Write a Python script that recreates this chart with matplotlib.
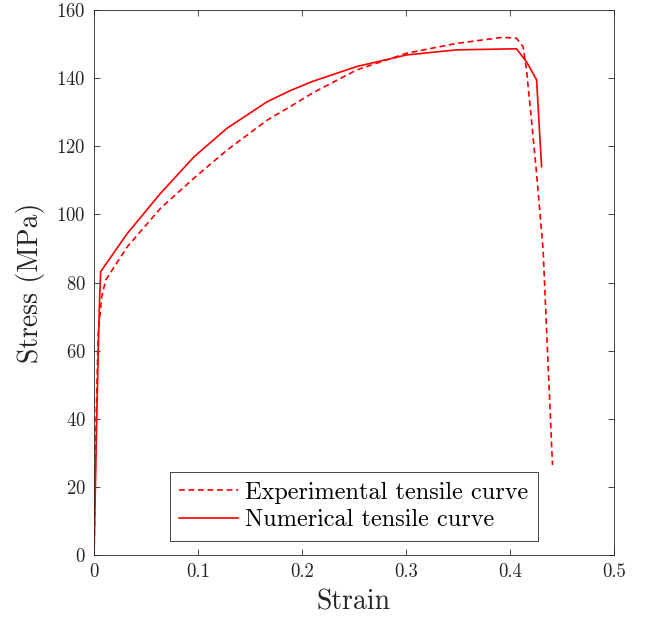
import numpy as np
import matplotlib
matplotlib.use('Agg')
import matplotlib.pyplot as plt

# experimental curve (dashed)
exp_strain = [0, 0.002, 0.004, 0.0074, 0.0112, 0.032, 0.064, 0.096, 0.128, 0.1667,
              0.1885, 0.21, 0.2526, 0.3006, 0.3488, 0.3936, 0.4064, 0.4128, 0.416,
              0.4208, 0.4257, 0.432, 0.441]
exp_stress = [0, 40, 65, 75.8, 80.7, 90.5, 101.8, 110.6, 118.9, 127.7,
              131.6, 135.6, 142.4, 147.3, 150.2, 152, 151.7, 149.2, 142.4,
              127.7, 112, 89.5, 26.4]

# numerical curve (solid)
num_strain = [0, 0.0026, 0.005, 0.0064, 0.032, 0.064, 0.0962, 0.128, 0.1667, 0.1885,
              0.2099, 0.2526, 0.3006, 0.3488, 0.4048, 0.4064, 0.416, 0.4257, 0.4305]
num_stress = [0, 40, 72, 83.2, 94.4, 106.2, 116.9, 125.3, 133.1, 136.3,
              139, 143.4, 146.8, 148.3, 148.6, 148.6, 144.8, 139.5, 114]

xticks = [0, 0.1, 0.2, 0.3, 0.4, 0.5]
xticklabels = ['0', '0.1', '0.2', '0.3', '0.4', '0.5']
yticks = [0, 20, 40, 60, 80, 100, 120, 140, 160]

plt.rcParams['font.family'] = ['cmr10', 'DejaVu Serif']
plt.rcParams['axes.formatter.use_mathtext'] = True
grey = '#262626'

fig = plt.figure(figsize=(6.53, 6.25), dpi=100)
ax = fig.add_axes([0.144, 0.112, 0.796, 0.872])
ax.plot(exp_strain, exp_stress, color='red', linestyle='--', linewidth=1.2,
        dashes=(3.5, 2.2), label='Experimental tensile curve')
ax.plot(num_strain, num_stress, color='red', linestyle='-', linewidth=1.2,
        label='Numerical tensile curve')

ax.set_xlim(0, 0.5)
ax.set_ylim(0, 160)
ax.set_xticks(xticks)
ax.set_xticklabels(xticklabels)
ax.set_yticks(yticks)
ax.tick_params(direction='in', top=True, right=True, length=4, width=0.6,
               colors=grey, labelsize=13.5, pad=6)
for s in ax.spines.values():
    s.set_color(grey)
    s.set_linewidth(0.6)
ax.set_xlabel('Strain', fontsize=20, color=grey, labelpad=6)
ax.set_ylabel('Stress (MPa)', fontsize=20, color=grey, labelpad=8)

leg = ax.legend(loc='lower center', bbox_to_anchor=(0.5, 0.026), fontsize=17.5,
                fancybox=False, framealpha=1, edgecolor=grey, handlelength=2.4,
                borderpad=0.4, labelspacing=0.22, handletextpad=0.3, borderaxespad=0)
leg.get_frame().set_linewidth(0.6)

fig.savefig('out.png', dpi=100)
